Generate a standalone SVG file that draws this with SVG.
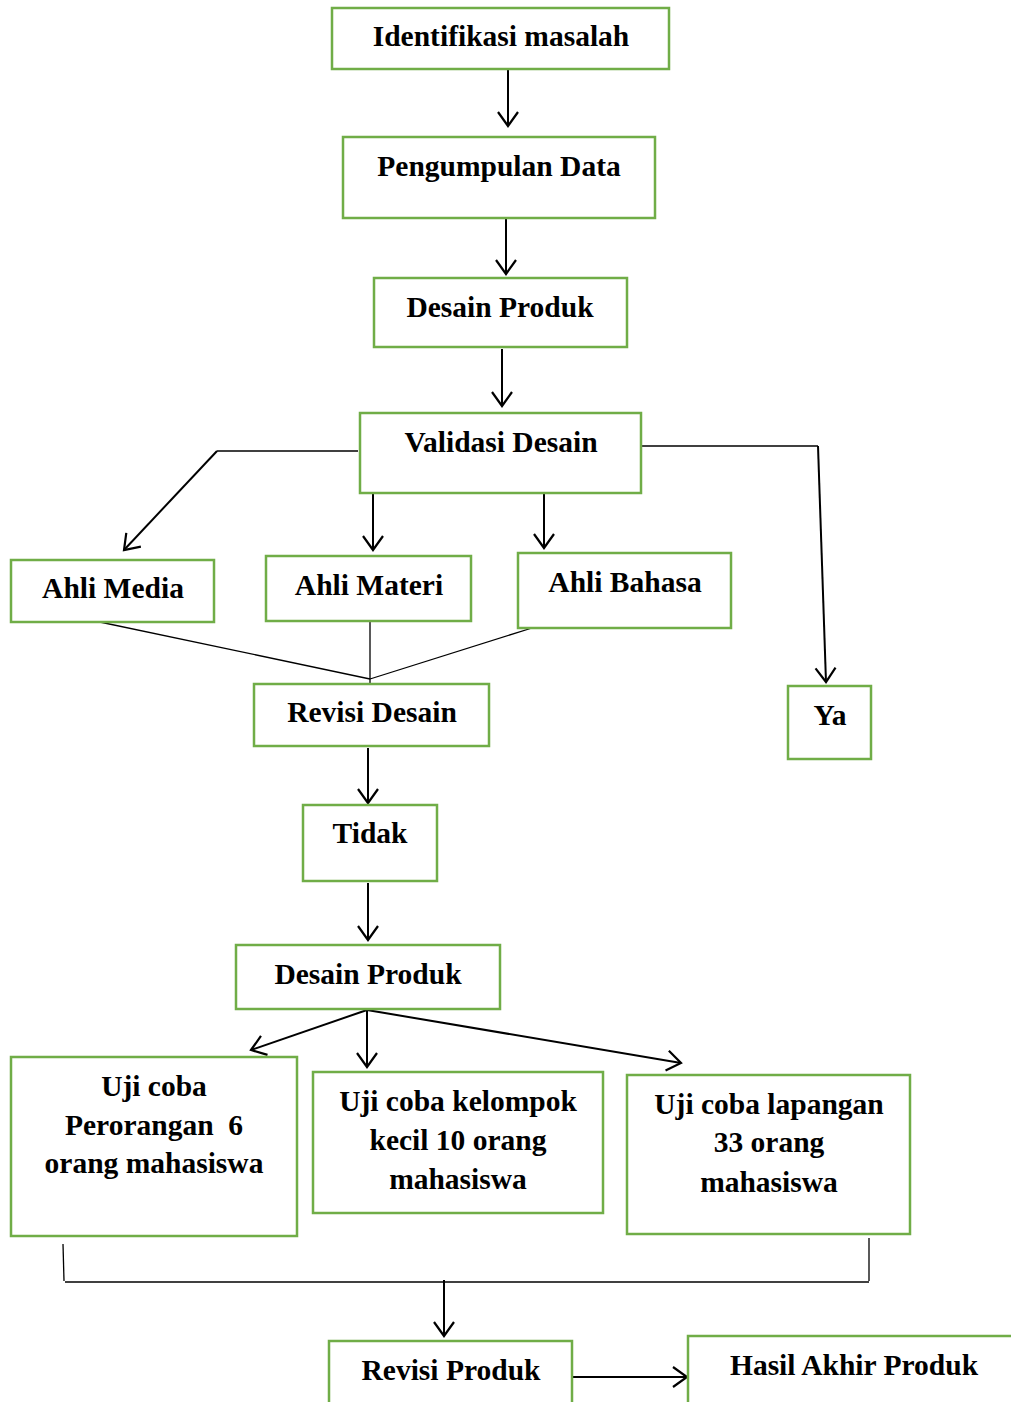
<svg xmlns="http://www.w3.org/2000/svg" width="1011" height="1402" viewBox="0 0 1011 1402">
<defs>
<marker id="ah" markerUnits="userSpaceOnUse" markerWidth="20" markerHeight="24" refX="15" refY="11" orient="auto" viewBox="0 0 20 24">
<path d="M1,1 L15,11 L1,21" fill="none" stroke="#000" stroke-width="2.2"/>
</marker>
</defs>
<style>
.box{fill:#fff;stroke:#70AD47;stroke-width:2.5}
.t{font-family:"Liberation Serif","Times New Roman",serif;font-weight:bold;font-size:29.5px;fill:#000;text-anchor:middle}
.c{fill:none;stroke:#000;stroke-width:2}
.a{fill:none;stroke:#000;stroke-width:2;marker-end:url(#ah)}
.thin{fill:none;stroke:#000;stroke-width:1.3}
</style>
<rect width="1011" height="1402" fill="#fff"/>
<g id="connectors">
<line class="a" x1="508" y1="70" x2="508" y2="126"/>
<line class="a" x1="506" y1="219" x2="506" y2="274"/>
<line class="a" x1="502" y1="349" x2="502" y2="406"/>
<polyline class="thin" points="358,451 217,451"/>
<line class="a" x1="217" y1="451" x2="124" y2="550"/>
<line class="a" x1="373" y1="494" x2="373" y2="550"/>
<line class="a" x1="544" y1="493" x2="544" y2="548"/>
<polyline class="thin" points="639,446 818,446"/>
<line class="a" x1="818" y1="446" x2="826" y2="682"/>
<line class="thin" x1="95" y1="621" x2="370" y2="679"/>
<line class="thin" x1="370" y1="621" x2="370" y2="683"/>
<line class="thin" x1="532" y1="628" x2="370" y2="679"/>
<line class="a" x1="368" y1="748" x2="368" y2="803"/>
<line class="a" x1="368" y1="883" x2="368" y2="940"/>
<line class="a" x1="367" y1="1010" x2="251" y2="1050"/>
<line class="a" x1="367" y1="1010" x2="367" y2="1067"/>
<line class="a" x1="367" y1="1010" x2="681" y2="1063"/>
<line class="thin" x1="63" y1="1244" x2="64" y2="1281"/>
<line class="thin" x1="869" y1="1238" x2="869" y2="1281"/>
<line class="thin" x1="65" y1="1282" x2="869" y2="1282"/>
<line class="a" x1="444" y1="1280" x2="444" y2="1336"/>
<line class="a" x1="572" y1="1377" x2="687" y2="1377"/>
</g>
<g id="n1"><rect class="box" x="332" y="8" width="337" height="61"/><text class="t" x="501" y="46">Identifikasi masalah</text></g>
<g id="n2"><rect class="box" x="343" y="137" width="312" height="81"/><text class="t" x="499" y="176">Pengumpulan Data</text></g>
<g id="n3"><rect class="box" x="374" y="278" width="253" height="69"/><text class="t" x="500" y="317">Desain Produk</text></g>
<g id="n4"><rect class="box" x="360" y="413" width="281" height="80"/><text class="t" x="501" y="452">Validasi Desain</text></g>
<g id="n5"><rect class="box" x="11" y="560" width="203" height="62"/><text class="t" x="113" y="598">Ahli Media</text></g>
<g id="n6"><rect class="box" x="266" y="556" width="205" height="65"/><text class="t" x="369" y="595">Ahli Materi</text></g>
<g id="n7"><rect class="box" x="518" y="553" width="213" height="75"/><text class="t" x="625" y="592">Ahli Bahasa</text></g>
<g id="n8"><rect class="box" x="788" y="686" width="83" height="73"/><text class="t" x="830" y="725">Ya</text></g>
<g id="n9"><rect class="box" x="254" y="684" width="235" height="62"/><text class="t" x="372" y="722">Revisi Desain</text></g>
<g id="n10"><rect class="box" x="303" y="805" width="134" height="76"/><text class="t" x="370" y="843">Tidak</text></g>
<g id="n11"><rect class="box" x="236" y="945" width="264" height="64"/><text class="t" x="368" y="984">Desain Produk</text></g>
<g id="n12"><rect class="box" x="11" y="1057" width="286" height="179"/><text class="t" x="154" y="1096">Uji coba</text><text class="t" x="154" y="1135" xml:space="preserve">Perorangan  6</text><text class="t" x="154" y="1173">orang mahasiswa</text></g>
<g id="n13"><rect class="box" x="313" y="1072" width="290" height="141"/><text class="t" x="458" y="1111">Uji coba kelompok</text><text class="t" x="458" y="1150">kecil 10 orang</text><text class="t" x="458" y="1189">mahasiswa</text></g>
<g id="n14"><rect class="box" x="627" y="1075" width="283" height="159"/><text class="t" x="769" y="1114">Uji coba lapangan</text><text class="t" x="769" y="1152">33 orang</text><text class="t" x="769" y="1192">mahasiswa</text></g>
<g id="n15"><rect class="box" x="329" y="1341" width="243" height="80"/><text class="t" x="451" y="1380">Revisi Produk</text></g>
<g id="n16"><rect class="box" x="688" y="1336" width="340" height="80"/><text class="t" x="854" y="1375">Hasil Akhir Produk</text></g>
</svg>
